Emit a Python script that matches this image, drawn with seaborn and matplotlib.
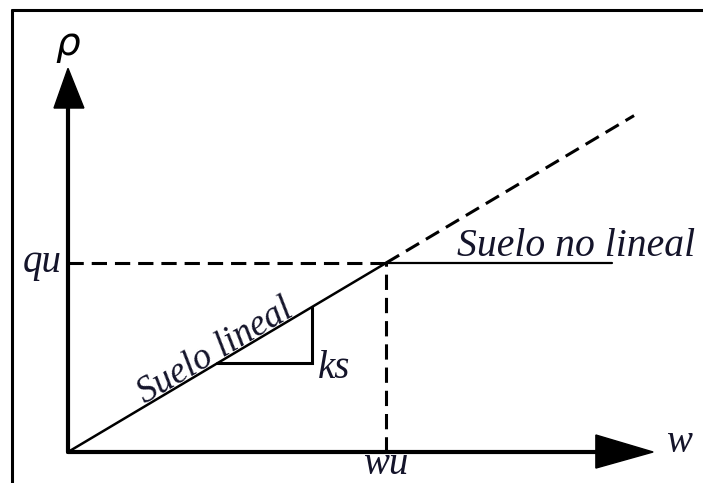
import matplotlib
matplotlib.use("Agg")
import matplotlib.pyplot as plt
import seaborn as sns
import numpy as np
import pandas as pd
from matplotlib.patches import Polygon

sns.set_theme(style="white")
plt.rcParams['font.family'] = ['Liberation Serif', 'DejaVu Serif']

# --- data (normalised units: wu = 1, qu = 1) ---
wu = 1.0
qu = 1.0
ks = qu / wu
w_linear = [0.0, wu]                 # solid linear part
w_extension = [wu, 1.78]             # dashed continuation
w_nonlinear = [wu, 1.71]             # horizontal plateau
w_axis_end = 1.84
rho_axis_end = 2.03
tri_w = [0.47, 0.767]                # slope triangle (run)

fig = plt.figure(figsize=(7.03, 4.83), dpi=100)
ax = fig.add_axes([0, 0, 1, 1])
ax.set_xlim(-68 / 318, 635 / 318)
ax.set_ylim(-31 / 189, 452 / 189)
ax.axis("off")

k = "black"
dash = (0, (5, 2.6))
kw = dict(ax=ax, color=k, estimator=None, sort=False, legend=False)
# linear soil
df_lin = pd.DataFrame({"w": w_linear, "rho": [ks * x for x in w_linear]})
sns.lineplot(data=df_lin, x="w", y="rho", lw=1.8, **kw)
# dashed extension
df_ext = pd.DataFrame({"w": w_extension, "rho": [ks * x for x in w_extension]})
sns.lineplot(data=df_ext, x="w", y="rho", lw=2.2, linestyle=dash, **kw)
# nonlinear plateau
df_nl = pd.DataFrame({"w": w_nonlinear, "rho": [qu, qu]})
sns.lineplot(data=df_nl, x="w", y="rho", lw=1.6, **kw)
# dashed guides
sns.lineplot(x=[0, wu], y=[qu, qu], lw=2.2, linestyle=dash, **kw)
sns.lineplot(x=[wu, wu], y=[0, qu], lw=2.2, linestyle=dash, **kw)
# slope triangle
tri_rho = [ks * tri_w[0], ks * tri_w[0], ks * tri_w[1]]
ax.plot([tri_w[0], tri_w[1], tri_w[1]], tri_rho, color=k, lw=2.2, solid_joinstyle="miter")

# axes
ax.plot([0, 1.685], [0, 0], color=k, lw=3)
ax.plot([0, 0], [0, 1.85], color=k, lw=3)
# arrow heads
ax.add_patch(Polygon([[1.66, 0.09], [1.66, -0.085], [w_axis_end, 0]], closed=True, color=k))
ax.add_patch(Polygon([[-0.044, 1.82], [0.05, 1.82], [0, rho_axis_end]], closed=True, color=k))

tc = "#14142a"
fs = 28
ax.text(-0.02, 0.955, "qu", ha="right", va="baseline", fontsize=fs, style="italic", color=tc)
ax.text(wu, -0.118, "wu", ha="center", va="baseline", fontsize=fs, style="italic", color=tc)
ax.text(1.92, 0.0, "w", ha="center", va="baseline", fontsize=fs, style="italic", color=tc)
ax.text(0.0, 2.16, "ρ", ha="center", va="center", fontsize=28, style="italic",
        family="DejaVu Sans", color=k)
ax.text(0.786, 0.39, "ks", ha="left", va="baseline", fontsize=fs, style="italic", color=tc)
ax.text(1.223, 1.037, "Suelo no lineal", ha="left", va="baseline", fontsize=28.5,
        style="italic", color=tc)
ax.text(0.478, 0.49, "Suelo lineal", ha="center", va="baseline", fontsize=26.5,
        style="italic", color=tc, rotation=np.degrees(np.arctan(189 / 318)),
        rotation_mode="anchor")

# outer frame (left & top)
fig.add_artist(plt.Line2D([12 / 703, 12 / 703], [0, 1 - 10 / 483], color=k, lw=2.2,
                          transform=fig.transFigure))
fig.add_artist(plt.Line2D([12 / 703, 1], [1 - 10 / 483, 1 - 10 / 483], color=k, lw=2.2,
                          transform=fig.transFigure))

fig.savefig("out.png", dpi=100)
